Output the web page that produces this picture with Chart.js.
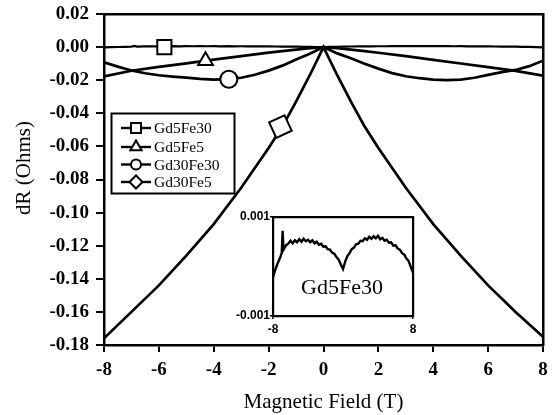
<!DOCTYPE html>
<html><head><meta charset="utf-8">
<script src="https://cdn.jsdelivr.net/npm/chart.js@4.4.1/dist/chart.umd.min.js"></script>
<style>
html,body{margin:0;padding:0;background:#fff;}
#wrap{position:relative;width:557px;height:415px;overflow:hidden;}
#main{position:absolute;left:0;top:0;}
#inset{position:absolute;left:220px;top:205px;}
</style></head><body>
<div id="wrap"><canvas id="main" width="557" height="415"></canvas><canvas id="inset" width="200" height="140"></canvas></div>
<script>
// ---- data ----
const seriesNames = ['Gd5Fe30', 'Gd5Fe5', 'Gd30Fe30', 'Gd30Fe5'];

// Gd5Fe30 (inset detail, also the flat line in the main plot)
const insetField = [-8.00,-7.75,-7.50,-7.25,-7.00,-6.90,-6.80,-6.50,-6.25,-6.00,-5.75,-5.50,-5.25,-5.00,-4.75,-4.50,-4.25,-4.00,-3.75,-3.50,-3.25,-3.00,-2.75,-2.50,-2.25,-2.00,-1.75,-1.50,-1.25,-1.00,-0.75,-0.50,-0.25,0.00,0.25,0.50,0.75,1.00,1.25,1.50,1.75,2.00,2.25,2.50,2.75,3.00,3.25,3.50,3.75,4.00,4.25,4.50,4.75,5.00,5.25,5.50,5.75,6.00,6.25,6.50,6.75,7.00,7.25,7.50,7.75,8.00];
const insetDR = [-0.00022,-0.00007,0.00005,0.00015,0.00027,0.00072,0.00034,0.00043,0.00046,0.00052,0.00047,0.00053,0.00049,0.00055,0.00050,0.00056,0.00051,0.00054,0.00049,0.00053,0.00047,0.00050,0.00044,0.00046,0.00040,0.00041,0.00035,0.00034,0.00028,0.00026,0.00019,0.00014,0.00004,-0.00005,0.00010,0.00021,0.00027,0.00035,0.00038,0.00045,0.00046,0.00052,0.00051,0.00057,0.00054,0.00060,0.00056,0.00061,0.00057,0.00062,0.00055,0.00058,0.00052,0.00054,0.00048,0.00049,0.00042,0.00043,0.00036,0.00034,0.00027,0.00024,0.00016,0.00011,-0.00001,-0.00012];

// Gd5Fe5 and Gd30Fe5
const fieldA = [-8,-7,-6,-5,-4,-3,-2,-1.5,-1,-0.5,0,0.5,1,1.5,2,3,4,5,6,7,8];
const gd5fe5 = [-0.0177,-0.0143,-0.0120,-0.0098,-0.0076,-0.0054,-0.0033,-0.0024,-0.0015,-0.0007,0,-0.0007,-0.0015,-0.0024,-0.0034,-0.0055,-0.0077,-0.0099,-0.0121,-0.0144,-0.0173];
const gd30fe5 = [-0.176,-0.160,-0.144,-0.126,-0.107,-0.085,-0.061,-0.048,-0.033,-0.017,0,-0.017,-0.033,-0.048,-0.061,-0.085,-0.107,-0.126,-0.144,-0.160,-0.175];

// Gd30Fe30
const fieldB = [-8,-7.5,-7,-6.5,-6,-5.5,-5,-4.5,-4,-3.5,-3,-2.5,-2,-1.5,-1,-0.5,0,0.5,1,1.5,2,2.5,3,3.5,4,4.5,5,5.5,6,6.5,7,7.5,8];
const gd30fe30 = [-0.0092,-0.0118,-0.0141,-0.0158,-0.0170,-0.0178,-0.0185,-0.0192,-0.0196,-0.0194,-0.0185,-0.0167,-0.0142,-0.0112,-0.0075,-0.0040,0,-0.0038,-0.0068,-0.0100,-0.0130,-0.0157,-0.0176,-0.0188,-0.0196,-0.0199,-0.0196,-0.0185,-0.0168,-0.0151,-0.0138,-0.0115,-0.0082];

// one marker per series in the main plot
const markerField = [-5.8, -4.3, -3.45, -1.57];
const markerDR = [0.000, -0.0083, -0.0194, -0.048];

// tick settings
const xTickStep = 2, yTickStep = 0.02;
const yMin = -0.18, yMax = 0.02, xMin = -8, xMax = 8;
const insetYMin = -0.001, insetYMax = 0.001;
const insetXTicks = [-8, 8];
const insetYTicks = [-0.001, 0.001];

// ---- build ----
const pairs = (xs, ys) => xs.map((x, i) => ({x: x, y: ys[i]}));
const serif = "'Liberation Serif','Times New Roman',serif";
const sans = "'Liberation Sans',Arial,sans-serif";
const styles = [
  {pointStyle: 'rect', radius: 10, rotation: 0, legRadius: 7},
  {pointStyle: 'triangle', radius: 8.5, rotation: 0, legRadius: 6.5},
  {pointStyle: 'circle', radius: 8.5, rotation: 0, legRadius: 5},
  {pointStyle: 'rectRot', radius: 12, rotation: 20, legRadius: 6.5}
];
const lineData = [pairs(insetField, insetDR), pairs(fieldA, gd5fe5), pairs(fieldB, gd30fe30), pairs(fieldA, gd30fe5)];

const datasets = [];
seriesNames.forEach((name, i) => {
  datasets.push({
    label: name, data: lineData[i], showLine: true, borderColor: '#000', borderWidth: i === 0 ? 2.2 : 2.7,
    pointRadius: 0, tension: 0, order: 2
  });
  datasets.push({
    label: name + ' marker', data: [{x: markerField[i], y: markerDR[i]}], showLine: false,
    pointStyle: styles[i].pointStyle, pointRadius: styles[i].radius, pointRotation: styles[i].rotation,
    pointBackgroundColor: '#fff', pointBorderColor: '#000', pointBorderWidth: 2, order: 1
  });
});

const noPad = (s) => { s.paddingLeft = 0; s.paddingRight = 0; s.paddingTop = 0; s.paddingBottom = 0; };

const frameAxis = (pos, lo, hi, w) => ({
  type: 'linear', position: pos, display: true, min: lo, max: hi,
  ticks: {display: false}, grid: {display: false, drawTicks: false},
  border: {display: true, color: '#000', width: w},
  afterFit(s) { if (pos === 'top') s.height = 0; else s.width = 0; noPad(s); }
});

const decorPlugin = {
  id: 'decor',
  afterDraw(chart) {
    const ctx = chart.ctx;
    ctx.save();
    // y axis title
    ctx.fillStyle = '#000';
    ctx.font = '21px ' + serif;
    ctx.textAlign = 'center';
    ctx.textBaseline = 'middle';
    ctx.translate(24, 168);
    ctx.rotate(-Math.PI / 2);
    ctx.fillText('dR (Ohms)', 0, 0);
    ctx.restore();
    // legend
    ctx.save();
    ctx.strokeStyle = '#000';
    ctx.lineWidth = 2;
    ctx.strokeRect(111.5, 113.5, 123, 80);
    const rows = [128, 147, 164.5, 182];
    seriesNames.forEach((name, i) => {
      const y = rows[i];
      ctx.beginPath();
      ctx.lineWidth = 2.4;
      ctx.moveTo(121, y); ctx.lineTo(151, y); ctx.stroke();
      ctx.fillStyle = '#fff';
      ctx.lineWidth = 2;
      Chart.helpers.drawPoint(ctx, {pointStyle: styles[i].pointStyle, radius: styles[i].legRadius, rotation: 0, borderWidth: 2}, 136, y);
      ctx.fillStyle = '#000';
      ctx.font = '15.5px ' + serif;
      ctx.textAlign = 'left';
      ctx.textBaseline = 'middle';
      ctx.fillText(name, 154, y + 1);
    });
    ctx.restore();
  }
};

new Chart(document.getElementById('main'), {
  type: 'scatter',
  data: {datasets: datasets},
  plugins: [decorPlugin],
  options: {
    responsive: false, animation: false, devicePixelRatio: 1,
    layout: {padding: {left: 0, right: 7, top: 11, bottom: 0}},
    plugins: {legend: {display: false}, tooltip: {enabled: false}},
    scales: {
      x: {
        type: 'linear', position: 'bottom', min: xMin, max: xMax,
        ticks: {stepSize: xTickStep, color: '#000', padding: 7, maxRotation: 0,
          font: {family: serif, size: 19, weight: 'bold'}, callback: v => String(v)},
        grid: {display: true, drawOnChartArea: false, drawTicks: true, tickLength: 7, color: '#000', lineWidth: 2},
        border: {display: true, color: '#000', width: 2.5},
        title: {display: true, text: 'Magnetic Field (T)', color: '#000', font: {family: serif, size: 21}, padding: {top: 0, bottom: 0}},
        afterFit(s) { s.height = 70; noPad(s); }
      },
      y: {
        type: 'linear', position: 'left', min: yMin, max: yMax,
        ticks: {stepSize: yTickStep, color: '#000', padding: 7,
          font: {family: serif, size: 19, weight: 'bold'},
          callback: v => (Math.abs(v) < 1e-9 ? 0 : v).toFixed(2)},
        grid: {display: true, drawOnChartArea: false, drawTicks: true, tickLength: 8, color: '#000', lineWidth: 2},
        border: {display: true, color: '#000', width: 2.5},
        afterFit(s) { s.width = 104; noPad(s); }
      },
      x2: frameAxis('top', xMin, xMax, 2.5),
      y2: frameAxis('right', yMin, yMax, 2.5)
    }
  }
});

// ---- inset ----
const insetLabelPlugin = {
  id: 'insetLabel',
  afterDraw(chart) {
    const ctx = chart.ctx;
    ctx.save();
    ctx.fillStyle = '#000';
    ctx.font = '22px ' + serif;
    ctx.textAlign = 'center';
    ctx.textBaseline = 'middle';
    ctx.fillText(seriesNames[0], 122, 83);
    ctx.restore();
  }
};
new Chart(document.getElementById('inset'), {
  type: 'scatter',
  data: {datasets: [{label: seriesNames[0], data: pairs(insetField, insetDR), showLine: true,
    borderColor: '#000', borderWidth: 2.4, pointRadius: 0, tension: 0}]},
  plugins: [insetLabelPlugin],
  options: {
    responsive: false, animation: false, devicePixelRatio: 1,
    layout: {padding: {left: 0, right: 7, top: 12, bottom: 0}},
    plugins: {legend: {display: false}, tooltip: {enabled: false}},
    scales: {
      x: {
        type: 'linear', position: 'bottom', min: xMin, max: xMax,
        afterBuildTicks(s) { s.ticks = insetXTicks.map(v => ({value: v})); },
        ticks: {color: '#000', padding: 3, maxRotation: 0,
          font: {family: sans, size: 12, weight: 'bold'}, callback: v => String(v)},
        grid: {display: true, drawOnChartArea: false, drawTicks: true, tickLength: 3, color: '#000', lineWidth: 1.5},
        border: {display: true, color: '#000', width: 2.2},
        afterFit(s) { s.height = 29; noPad(s); }
      },
      y: {
        type: 'linear', position: 'left', min: insetYMin, max: insetYMax,
        afterBuildTicks(s) { s.ticks = insetYTicks.map(v => ({value: v})); },
        ticks: {color: '#000', padding: 0,
          font: {family: sans, size: 12, weight: 'bold'}, callback: v => v.toFixed(3)},
        grid: {display: true, drawOnChartArea: false, drawTicks: true, tickLength: 3, color: '#000', lineWidth: 1.5},
        border: {display: true, color: '#000', width: 2.2},
        afterFit(s) { s.width = 53; noPad(s); }
      },
      x2: frameAxis('top', xMin, xMax, 2.2),
      y2: frameAxis('right', insetYMin, insetYMax, 2.2)
    }
  }
});
</script>
</body></html>
